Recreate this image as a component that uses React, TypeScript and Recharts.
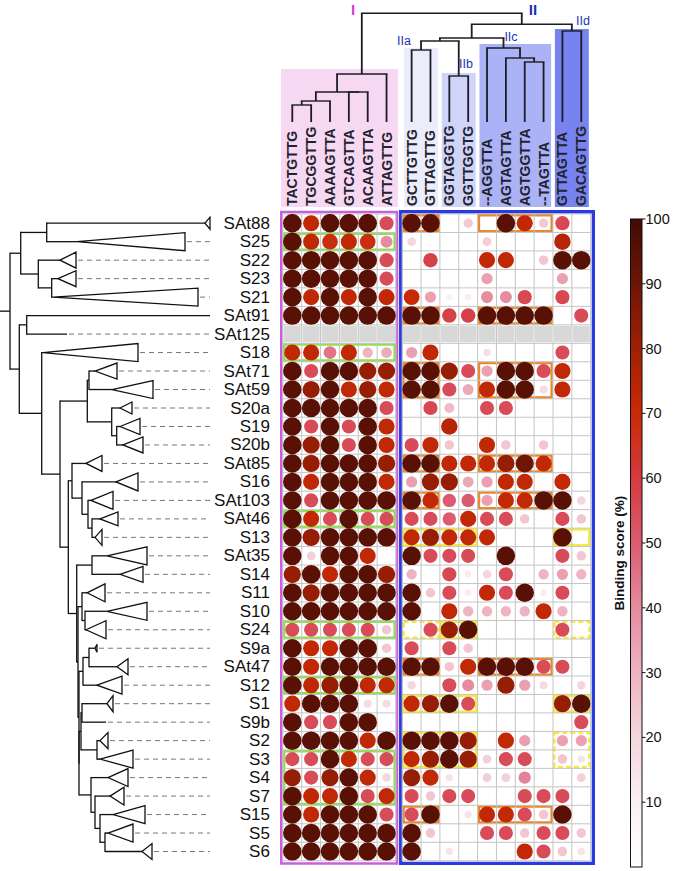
import React from 'react';
import { ScatterChart, Scatter, XAxis, YAxis, ReferenceArea, ReferenceLine, Customized } from 'recharts';

// ---------------- categories ----------------
const strains = ['SAt88', 'S25', 'S22', 'S23', 'S21', 'SAt91', 'SAt125', 'S18', 'SAt71', 'SAt59', 'S20a', 'S19', 'S20b', 'SAt85', 'S16', 'SAt103', 'SAt46', 'S13', 'SAt35', 'S14', 'S11', 'S10', 'S24', 'S9a', 'SAt47', 'S12', 'S1', 'S9b', 'S2', 'S3', 'S4', 'S7', 'S15', 'S5', 'S6'];
const motifsGroupI = ['TACTGTTG', 'TGCGGTTG', 'AAAAGTTA', 'GTCAGTTA', 'ACAAGTTA', 'ATTAGTTG'];
const motifsGroupII = ['GCTTGTTG', 'GTTAGTTG', 'GGTAGGTG', 'GGTTGGTG', '--AGGTTA', 'AGTAGTTA', 'AGTGGTTA', '--TAGTTA', 'GTTAGTTA', 'GACAGTTG'];
const motifs = [...motifsGroupI, ...motifsGroupII];

// ---------------- binding scores (%) per strain, in motif order (null = not tested) ----------------
const sSAt88 = [95, 72, 95, 95, 95, 55, 95, 95, 0, 24, 0, 95, 72, 24, 56, 0];
const sS25 = [95, 72, 68, 72, 68, 40, 20, 0, 0, 0, 22, 0, 0, 0, 75, 0];
const sS22 = [95, 95, 95, 95, 95, 55, 0, 58, 0, 0, 72, 72, 0, 25, 95, 95];
const sS23 = [95, 95, 95, 95, 95, 55, 0, 0, 0, 0, 35, 0, 0, 0, 35, 0];
const sS21 = [95, 72, 95, 72, 95, 72, 70, 35, 10, 12, 40, 40, 56, 0, 56, 0];
const sSAt91 = [95, 95, 95, 95, 95, 95, 95, 95, 58, 58, 95, 95, 95, 95, 0, 55];
const sSAt125 = [null, null, null, null, null, null, null, null, null, null, null, null, null, null, null, null];
const sS18 = [72, 72, 45, 72, 30, 32, 35, 72, 0, 0, 16, 0, 0, 0, 55, 0];
const sSAt71 = [95, 55, 95, 95, 82, 82, 95, 95, 82, 55, 35, 95, 95, 55, 72, 0];
const sSAt59 = [95, 82, 95, 72, 82, 72, 95, 95, 55, 33, 72, 95, 95, 18, 72, 0];
const sS20a = [95, 95, 95, 95, 95, 55, 0, 56, 28, 0, 55, 55, 0, 0, 0, 0];
const sS19 = [95, 55, 95, 55, 95, 72, 0, 0, 75, 0, 0, 0, 0, 0, 0, 0];
const sS20b = [95, 82, 95, 55, 95, 72, 55, 72, 25, 0, 72, 25, 0, 25, 0, 0];
const sSAt85 = [95, 82, 95, 95, 95, 82, 95, 95, 72, 72, 72, 82, 90, 72, 0, 0];
const sS16 = [95, 72, 95, 95, 95, 72, 35, 82, 82, 33, 35, 72, 72, 0, 72, 0];
const sSAt103 = [95, 55, 95, 95, 95, 95, 95, 72, 50, 50, 35, 72, 72, 95, 95, 20];
const sSAt46 = [95, 72, 55, 95, 55, 55, 55, 55, 50, 72, 55, 55, 25, 0, 55, 25];
const sS13 = [95, 82, 95, 95, 95, 95, 72, 82, 72, 72, 72, 0, 0, 0, 95, 0];
const sSAt35 = [95, 22, 95, 95, 72, 0, 95, 55, 55, 55, 0, 95, 0, 0, 55, 25];
const sS14 = [82, 95, 72, 95, 95, 82, 30, 0, 56, 12, 20, 55, 0, 30, 35, 30];
const sS11 = [95, 82, 95, 95, 95, 95, 95, 25, 55, 12, 72, 55, 95, 12, 55, 0];
const sS10 = [95, 95, 95, 95, 95, 95, 95, 0, 72, 30, 30, 30, 30, 72, 30, 0];
const sS24 = [55, 55, 55, 55, 55, 25, 0, 55, 82, 95, 0, 0, 0, 0, 55, 0];
const sS9a = [95, 72, 72, 95, 95, 25, 55, 0, 55, 25, 0, 0, 0, 0, 0, 0];
const sSAt47 = [95, 72, 95, 95, 95, 95, 95, 95, 25, 72, 95, 95, 95, 55, 55, 0];
const sS12 = [95, 72, 82, 95, 72, 72, 20, 0, 55, 40, 35, 82, 35, 18, 0, 20];
const sS1 = [72, 95, 95, 95, 18, 18, 72, 82, 95, 55, 0, 0, 0, 0, 82, 95];
const sS9b = [95, 55, 55, 95, 95, 0, 0, 0, 0, 0, 0, 0, 0, 0, 0, 55];
const sS2 = [95, 95, 95, 95, 72, 95, 95, 95, 95, 82, 0, 72, 35, 0, 35, 35];
const sS3 = [55, 55, 95, 72, 55, 55, 72, 82, 95, 82, 22, 55, 55, 0, 25, 15];
const sS4 = [82, 55, 82, 95, 72, 20, 82, 72, 15, 0, 22, 22, 42, 0, 0, 22];
const sS7 = [95, 72, 72, 95, 55, 72, 55, 25, 55, 55, 0, 0, 55, 55, 55, 0];
const sS15 = [95, 72, 95, 95, 95, 55, 55, 95, 0, 15, 72, 72, 55, 25, 95, 0];
const sS5 = [95, 95, 95, 95, 95, 95, 95, 25, 0, 0, 55, 55, 25, 55, 55, 25];
const sS6 = [95, 95, 95, 95, 95, 95, 95, 0, 15, 0, 0, 0, 72, 55, 25, 15];

const scoreRows: (number | null)[][] = [sSAt88, sS25, sS22, sS23, sS21, sSAt91, sSAt125, sS18, sSAt71, sSAt59, sS20a, sS19, sS20b, sSAt85, sS16, sSAt103, sSAt46, sS13, sSAt35, sS14, sS11, sS10, sS24, sS9a, sSAt47, sS12, sS1, sS9b, sS2, sS3, sS4, sS7, sS15, sS5, sS6];

const colorbarTicks = [10, 20, 30, 40, 50, 60, 70, 80, 90, 100];

// highlighted cell groups: [firstRow, lastRow, firstCol, lastCol]
const orangeBoxes = [[0, 0, 6, 7], [0, 0, 10, 13], [5, 5, 6, 7], [5, 5, 10, 13], [8, 9, 6, 7], [8, 9, 10, 13], [13, 13, 6, 7], [13, 13, 10, 13], [15, 15, 6, 7], [15, 15, 10, 13], [24, 24, 6, 7], [24, 24, 10, 13], [32, 32, 6, 7], [32, 32, 10, 13]];
const greenBoxes = [[1, 1, 0, 5], [7, 7, 0, 5], [16, 16, 0, 5], [22, 22, 0, 5], [25, 25, 0, 5], [29, 31, 0, 5]];
const yellowBoxes = [[17, 17, 6, 9], [17, 17, 14, 15], [22, 22, 8, 9], [26, 26, 6, 9], [26, 26, 14, 15], [28, 29, 6, 9]];
const yellowDashedBoxes = [[22, 22, 6, 7], [22, 22, 14, 15], [28, 29, 14, 15]];

// ---------------- layout ----------------
const FONT = '"Liberation Sans", Arial, Helvetica, sans-serif';
const W = 673, H = 871;
const GROUP_GAP = 0.33;
const colPos = motifs.map((_, i) => (i < motifsGroupI.length ? i : i + GROUP_GAP));
const rowIdx = strains.map((_, i) => i);
const XMIN = -0.5, XMAX = 15 + GROUP_GAP + 0.5;
const YMIN = -0.5, YMAX = strains.length - 0.5;
const COLW = 18.85, ROWH = 18.48;
const PLOT_LEFT = 292.3 - 0.5 * COLW;
const PLOT_TOP = 223.2 - 0.5 * ROWH;
const PLOT_W = (XMAX - XMIN) * COLW;
const PLOT_H = (YMAX - YMIN) * ROWH;
const X_AXIS_H = 30, Y_AXIS_W = 20;
const margin = {
  top: PLOT_TOP - X_AXIS_H,
  left: PLOT_LEFT - Y_AXIS_W,
  right: W - (PLOT_LEFT + PLOT_W),
  bottom: H - (PLOT_TOP + PLOT_H),
};
const px = (c: number) => PLOT_LEFT + (c - XMIN) * COLW;
const py = (r: number) => PLOT_TOP + (r - YMIN) * ROWH;

// ---------------- colour / size scale ----------------
const stops: [number, string][] = [
  [0, '#ffffff'], [10, '#faf0f2'], [20, '#f5d6dd'], [30, '#eeb4c1'], [40, '#e58c9f'], [50, '#dc5b71'],
  [60, '#d43b3f'], [70, '#c92a06'], [80, '#a02005'], [90, '#6e1505'], [100, '#430b04'],
];
const hex = (h: string) => [1, 3, 5].map((i) => parseInt(h.slice(i, i + 2), 16));
function colorFor(v: number) {
  for (let i = 1; i < stops.length; i++) {
    if (v <= stops[i][0]) {
      const [v0, c0] = stops[i - 1];
      const [v1, c1] = stops[i];
      const t = (v - v0) / (v1 - v0);
      const a = hex(c0), b = hex(c1);
      const m = a.map((x, j) => Math.round(x + (b[j] - x) * t));
      return `rgb(${m[0]},${m[1]},${m[2]})`;
    }
  }
  return stops[stops.length - 1][1];
}
const radiusFor = (v: number) => 0.95 * Math.sqrt(v);

const points: { x: number; y: number; v: number }[] = [];
scoreRows.forEach((row, r) => row.forEach((v, c) => {
  if (v !== null && v > 0) points.push({ x: colPos[c], y: r, v });
}));
const missingRows = rowIdx.filter((r) => scoreRows[r].every((v) => v === null));

// ---------------- dendrograms ----------------
type TN = number | { h: number; k: TN[] };
const T = (h: number, ...k: TN[]): TN => ({ h, k });
const treeI = T(74, T(92, T(101, T(105, 0, 1), 2), T(92, 3, 4)), 5);
const treeIIab = T(41, T(50, 6, 7), T(76, 8, 9));
const treeIIc = T(48, 10, T(58, 11, T(62, 12, 13)));
const treeII = T(24.3, T(38, treeIIab, treeIIc), T(31, 14, 15));
const motifTree = T(13.3, treeI, treeII);
const LEAF_Y = 122;

type LN = number | { x: number; k: LN[] };
const L = (x: number, ...k: LN[]): LN => ({ x, k });
const tB11 = L(91, 30, L(95, 31, L(100, 32, L(105, 33, 34))));
const tB10 = L(79, L(81, L(82, 26, 27), L(97, 28, 29)), tB11);
const tB9 = L(79, L(83, L(89, 23, 24), 25), tB10);
const tB8 = L(78, L(82, 20, L(85, 21, 22)), tB9);
const tB7 = L(76.7, L(92, 18, 19), tB8);
const tB6 = L(72, 13, L(82, 14, L(88, 15, L(92, 16, 17))));
const tB5 = L(68.3, tB6, tB7);
const tB4 = L(87.3, L(89, 8, 9), L(111.7, 10, L(116.7, 11, 12)));
const tB3 = L(60, tB4, tB5);
const tB2 = L(41.7, 7, tB3);
const tB = L(19.3, L(26.7, 5, 6), tB2);
const tA = L(20.7, L(46.7, 0, 1), L(38.3, 2, L(51.7, 3, 4)));
const strainTree = L(10, tA, tB);
const leafTip = [205, 77, 60, 58, 53, 210, 67, 43, 95, 112, 120, 120, 123, 86, 116, 91, 100, 95, 107, 120, 87, 107, 86, 95, 117, 97, 107, 106, 100, 100, 108, 110, 113, 108, 142];
const leafBase = [210, 185, 76, 76, 198, 210, 67, 138, 117, 153, 132, 140, 143, 102, 138, 113, 118, 102, 147, 143, 105, 147, 106, 97, 128, 122, 113, 106, 108, 133, 128, 124, 145, 133, 152];
const leafHalf = [6, 9, 8, 8, 9, 0, 0, 9, 8, 9, 6, 8, 8, 8, 9, 9, 7, 8, 9, 8, 9, 9, 9, 4, 8, 9, 8, 0, 8, 9, 9, 9, 9, 9, 8];
const DASH_END = 210;

const headerBoxes = [
  { c0: 0, c1: 5, top: 69, fill: '#f6d8f2', pad: 0.6 },
  { c0: 6, c1: 7, top: 48, fill: '#ecedfb', pad: 0.4 },
  { c0: 8, c1: 9, top: 73, fill: '#d0d4f9', pad: 0.4 },
  { c0: 10, c1: 13, top: 44, fill: '#abb2f5', pad: 0.4 },
  { c0: 14, c1: 15, top: 29, fill: '#7784f0', pad: 0.4 },
];

function Decorations() {
  const out: React.ReactNode[] = [];
  let key = 0;
  const line = (x1: number, y1: number, x2: number, y2: number, stroke: string, sw: number, dash?: string) =>
    out.push(<line key={key++} x1={x1} y1={y1} x2={x2} y2={y2} stroke={stroke} strokeWidth={sw} strokeDasharray={dash} />);

  headerBoxes.forEach((b) => {
    const x0 = px(colPos[b.c0] - b.pad), x1 = px(colPos[b.c1] + b.pad);
    out.push(<rect key={key++} x={x0} y={b.top} width={x1 - x0} height={207 - b.top} fill={b.fill} />);
  });

  const drawT = (n: TN): { x: number; y: number } => {
    if (typeof n === 'number') return { x: px(colPos[n]), y: LEAF_Y };
    const kids = n.k.map(drawT);
    kids.forEach((c) => line(c.x, c.y, c.x, n.h, '#1c1c24', 1.8));
    const xs = kids.map((c) => c.x);
    const a = Math.min(...xs), b = Math.max(...xs);
    line(a - 0.9, n.h, b + 0.9, n.h, '#1c1c24', 1.4);
    return { x: (a + b) / 2, y: n.h };
  };
  drawT(motifTree);

  const drawL = (n: LN): { x: number; y: number } => {
    if (typeof n === 'number') return { x: leafTip[n], y: py(n) };
    const kids = n.k.map(drawL);
    const ys = kids.map((c) => c.y);
    const a = Math.min(...ys), b = Math.max(...ys);
    line(n.x, a - 0.6, n.x, b + 0.6, '#111', 1.3);
    kids.forEach((c) => line(n.x, c.y, c.x, c.y, '#111', 1.3));
    return { x: n.x, y: (a + b) / 2 };
  };
  const root = drawL(strainTree);
  line(0, root.y, 10, root.y, '#111', 1.3);

  strains.forEach((_, r) => {
    const y = py(r);
    if (leafHalf[r] > 0) {
      out.push(<polygon key={key++} points={`${leafTip[r]},${y} ${leafBase[r]},${y - leafHalf[r]} ${leafBase[r]},${y + leafHalf[r]}`} fill="#fff" stroke="#111" strokeWidth={1.3} />);
    }
    if (leafBase[r] < DASH_END - 2) line(leafBase[r] + 2, y, DASH_END, y, '#777', 1, '5 4');
  });

  // group labels
  out.push(<text key={key++} x={353} y={9} fill="#d23cd2" fontSize={15} fontFamily={FONT} fontWeight="bold" textAnchor="middle" dominantBaseline="central">I</text>);
  out.push(<text key={key++} x={533} y={9} fill="#1f2fb8" fontSize={15} fontFamily={FONT} fontWeight="bold" textAnchor="middle" dominantBaseline="central">II</text>);
  const sub: [string, number, number][] = [['IIa', 404, 41], ['IIb', 466, 64], ['IIc', 511, 37], ['IId', 583, 21]];
  sub.forEach(([t, x, y]) => out.push(<text key={key++} x={x} y={y} fill="#2233b0" fontSize={12.5} fontFamily={FONT} textAnchor="middle" dominantBaseline="central">{t}</text>));

  // colour bar
  const CB_X = 630.5, CB_W = 11.5, CB_TOP = 219, CB_BOT = 867;
  const cbY = (v: number) => CB_BOT - (v / 100) * (CB_BOT - CB_TOP);
  out.push(
    <defs key={key++}>
      <linearGradient id="cbGrad" x1="0" y1="1" x2="0" y2="0">
        {stops.map(([v, c]) => <stop key={v} offset={v / 100} stopColor={c} />)}
      </linearGradient>
    </defs>
  );
  out.push(<rect key={key++} x={CB_X} y={CB_TOP} width={CB_W} height={CB_BOT - CB_TOP} fill="url(#cbGrad)" stroke="#111" strokeWidth={1} />);
  colorbarTicks.forEach((v) => {
    line(CB_X + CB_W, cbY(v), CB_X + CB_W + 3.5, cbY(v), '#111', 1);
    out.push(<text key={key++} x={CB_X + CB_W + 3.5} y={cbY(v)} fontSize={14.5} fontFamily={FONT} fill="#111" dominantBaseline="central">{v}</text>);
  });
  out.push(<text key={key++} x={619} y={553} transform="rotate(-90 619 553)" fontSize={13.5} fontWeight="bold" fontFamily={FONT} fill="#111" textAnchor="middle" dominantBaseline="central">Binding score (%)</text>);

  return <g>{out}</g>;
}

const ColTick = (p: any) => {
  const i = colPos.findIndex((c) => Math.abs(c - p.payload.value) < 1e-6);
  const x = p.x, y = 206;
  return (
    <text x={x} y={y} transform={`rotate(-90 ${x} ${y})`} fontSize={14} fontWeight="bold" fontFamily={FONT} fill="#23232e" textAnchor="start" dominantBaseline="central">
      {motifs[i]}
    </text>
  );
};
const RowTick = (p: any) => (
  <text x={PLOT_LEFT - 13} y={p.y} fontSize={17} fontFamily={FONT} fill="#111" textAnchor="end" dominantBaseline="central">
    {strains[Math.round(p.payload.value)]}
  </text>
);

const renderDot = (p: any) => (
  <circle cx={p.cx} cy={p.cy} r={radiusFor(p.payload.v)} fill={colorFor(p.payload.v)} />
);

const INSET = 0.07;
function boxArea(b: number[], stroke: string, sw: number, dash: string | undefined, k: string) {
  const [r0, r1, c0, c1] = b;
  return (
    <ReferenceArea key={k} x1={colPos[c0] - 0.5 + INSET} x2={colPos[c1] + 0.5 - INSET} y1={r0 - 0.5 + INSET} y2={r1 + 0.5 - INSET}
      fill="none" fillOpacity={0} stroke={stroke} strokeWidth={sw} strokeDasharray={dash} ifOverflow="visible" />
  );
}

export default function App() {
  const g1 = [XMIN, motifsGroupI.length - 0.5];
  const g2 = [motifsGroupI.length - 0.5 + GROUP_GAP, XMAX];
  const vLines: number[] = [];
  for (let i = 0; i <= motifsGroupI.length; i++) vLines.push(i - 0.5);
  for (let i = motifsGroupI.length; i <= motifs.length; i++) vLines.push(i - 0.5 + GROUP_GAP);
  const hLines: number[] = [];
  for (let r = 0; r <= strains.length; r++) hLines.push(r - 0.5);

  return (
    <div style={{ position: 'absolute', left: 0, top: 0, width: W, height: H, background: '#fff' }}>
      <ScatterChart width={W} height={H} margin={margin}>
        <XAxis type="number" dataKey="x" orientation="top" domain={[XMIN, XMAX]} allowDataOverflow ticks={colPos} interval={0}
          height={X_AXIS_H} axisLine={false} tickLine={false} tick={ColTick} />
        <YAxis type="number" dataKey="y" domain={[YMIN, YMAX]} reversed allowDataOverflow ticks={rowIdx} interval={0}
          width={Y_AXIS_W} axisLine={false} tickLine={false} tick={RowTick} />
        <Customized component={Decorations} />
        {vLines.map((x) => (
          <ReferenceLine key={'v' + x} segment={[{ x, y: YMIN }, { x, y: YMAX }]} stroke="#c4c4c4" strokeWidth={1} ifOverflow="visible" />
        ))}
        {hLines.map((y) => [g1, g2].map((g, gi) => (
          <ReferenceLine key={'h' + y + '_' + gi} segment={[{ x: g[0], y }, { x: g[1], y }]} stroke="#c4c4c4" strokeWidth={1} ifOverflow="visible" />
        )))}
        {missingRows.map((r) => colPos.map((c) => (
          <ReferenceArea key={'m' + r + '_' + c} x1={c - 0.5 + 0.05} x2={c + 0.5 - 0.05} y1={r - 0.5 + 0.06} y2={r + 0.5 - 0.06}
            fill="#d8d8d8" fillOpacity={1} stroke="none" ifOverflow="visible" />
        )))}
        <Scatter data={points} isAnimationActive={false} shape={renderDot} />
        {greenBoxes.map((b, i) => boxArea(b, '#8fe04c', 2.5, undefined, 'g' + i))}
        {orangeBoxes.map((b, i) => boxArea(b, '#e8892c', 2.5, undefined, 'o' + i))}
        {yellowBoxes.map((b, i) => boxArea(b, '#f6ea3a', 2.5, undefined, 'y' + i))}
        {yellowDashedBoxes.map((b, i) => boxArea(b, '#f6ea3a', 2.5, '5 3', 'yd' + i))}
        <ReferenceArea x1={-0.584} x2={5.555} y1={-0.606} y2={34.65} fill="none" fillOpacity={0} stroke="#c95fdc" strokeWidth={2.6} ifOverflow="visible" />
        <ReferenceArea x1={5.75} x2={15.97} y1={-0.62} y2={34.64} fill="none" fillOpacity={0} stroke="#2a3ae0" strokeWidth={3.3} ifOverflow="visible" />
      </ScatterChart>
    </div>
  );
}
